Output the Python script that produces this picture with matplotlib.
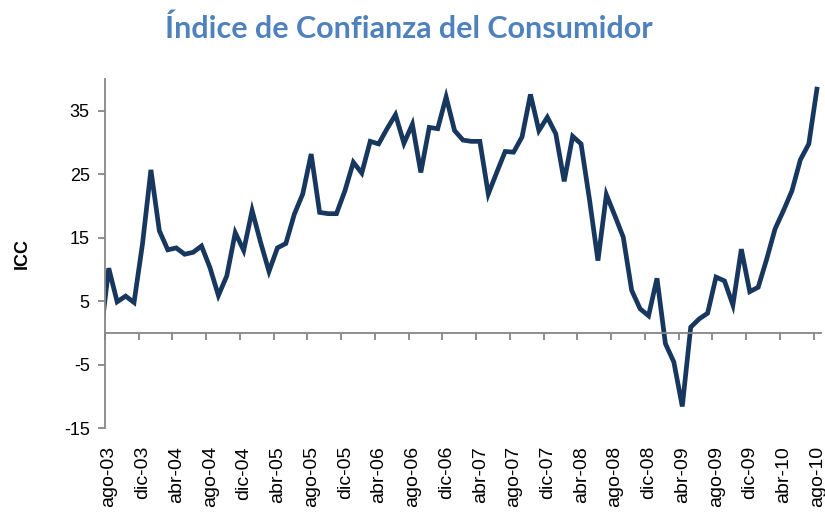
import matplotlib
matplotlib.use("Agg")
import matplotlib.pyplot as plt
import matplotlib.transforms as mtransforms

# ICC mensual, jul-03 .. ago-10
icc = [
    -1.0,                                                    # jul-03
    10.2, 4.9, 5.8, 4.8, 14.0, 25.7, 16.1, 13.1, 13.4, 12.4, 12.7, 13.7,   # ago-03 .. jul-04
    10.3, 5.9, 9.0, 15.8, 13.0, 19.3, 14.3, 9.7, 13.4, 14.1, 18.7, 21.9,   # ago-04 .. jul-05
    28.2, 19.0, 18.8, 18.8, 22.4, 26.9, 25.2, 30.2, 29.8, 32.2, 34.4, 29.9, # ago-05 .. jul-06
    32.9, 25.3, 32.4, 32.2, 37.2, 31.9, 30.4, 30.2, 30.2, 21.9, 25.3, 28.6, # ago-06 .. jul-07
    28.5, 30.9, 37.6, 31.9, 34.0, 31.4, 23.9, 31.0, 29.8, 21.0, 11.4, 21.8, # ago-07 .. jul-08
    18.5, 15.1, 6.7, 3.8, 2.7, 8.6, -1.7, -4.6, -11.6, 0.9, 2.2, 3.1,       # ago-08 .. jul-09
    8.8, 8.2, 4.4, 13.2, 6.5, 7.2, 11.6, 16.4, 19.3, 22.4, 27.3, 29.8,      # ago-09 .. jul-10
    38.8,                                                    # ago-10
]
# los puntos caen ~0.44 mes a la derecha de la marca del mes (eje de fechas)
meses = [k - 0.56 for k in range(len(icc))]

etiquetas = ["ago-03", "dic-03", "abr-04", "ago-04", "dic-04", "abr-05", "ago-05",
             "dic-05", "abr-06", "ago-06", "dic-06", "abr-07", "ago-07", "dic-07",
             "abr-08", "ago-08", "dic-08", "abr-09", "ago-09", "dic-09", "abr-10",
             "ago-10"]
pos_etiquetas = [4 * i for i in range(len(etiquetas))]
yticks = [-15, -5, 5, 15, 25, 35]

gris = "#868686"
plt.rcParams["font.family"] = ["Liberation Sans", "DejaVu Sans"]
plt.rcParams["axes.unicode_minus"] = False

fig = plt.figure(figsize=(8.25, 5.16), dpi=100)
ax = fig.add_axes([0.1273, 0.1705, 0.868, 0.676])

ax.plot(meses, icc, color="#17375E", lw=3.4, solid_joinstyle="miter",
        solid_capstyle="butt", clip_on=True)

ax.set_xlim(0, 84.9)
ax.set_ylim(-15, 40)

# eje X cruzando en cero, etiquetas abajo
for s in ("top", "right"):
    ax.spines[s].set_visible(False)
ax.spines["left"].set_color(gris)
ax.spines["left"].set_linewidth(1.3)
ax.spines["bottom"].set_position(("data", 0))
ax.spines["bottom"].set_color(gris)
ax.spines["bottom"].set_linewidth(1.3)

ax.set_yticks(yticks)
ax.tick_params(axis="y", colors=gris, length=5, width=1.3, labelsize=13,
               labelcolor="black", pad=6)
ax.set_xticks(pos_etiquetas)
ax.tick_params(axis="x", colors=gris, length=5, width=1.3, labelbottom=False)

sec = ax.secondary_xaxis("bottom")
sec.set_xticks(pos_etiquetas)
sec.set_xticklabels(etiquetas, rotation=90, fontsize=14)
sec.tick_params(length=0, pad=13)
sec.spines["bottom"].set_visible(False)
desplaza = mtransforms.ScaledTranslation(4 / 100, 0, fig.dpi_scale_trans)
for lab in sec.get_xticklabels():
    lab.set_transform(lab.get_transform() + desplaza)

ax.set_ylabel("ICC", fontsize=13, fontweight="bold", labelpad=24)

fig.text(0.495, 0.945, "Índice de Confianza del Consumidor", ha="center", va="center",
         fontsize=22, fontweight="bold", color="#4F81BD", family=["Lato", "DejaVu Sans"])

fig.savefig("out.png", dpi=100)
